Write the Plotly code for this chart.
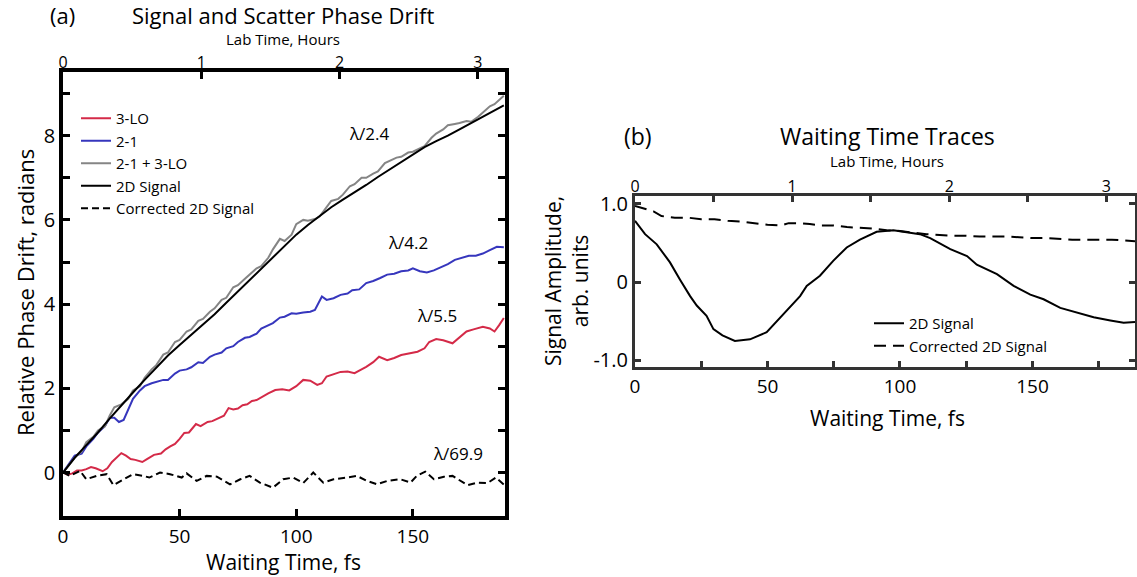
import plotly.graph_objects as go

W, H = 1137, 577
FONT = "Open Sans"
FS_PER_HOUR = 59.3

# ---------------- Panel (a): phase drift (radians) vs waiting time (fs) ----------------
t_red = [0, 2, 4, 6, 8, 10, 12, 14, 17, 19, 21, 23, 25, 27, 29, 31, 34, 36, 39, 42, 44, 46, 48, 50,
         52, 54, 57, 59, 62, 64, 67, 69, 71, 73, 75, 77, 79, 81, 83, 86, 88, 91, 94, 97, 100, 103,
         106, 109, 111, 113, 116, 119, 122, 125, 128, 130, 133, 135.5, 139, 142, 145, 148, 152,
         155, 157, 160, 163, 167, 170, 173, 176, 180, 183, 185, 187, 189]
red_3lo = [0.0, -0.05, -0.02, 0.05, 0.05, 0.08, 0.13, 0.10, 0.03, 0.10, 0.25, 0.35, 0.46, 0.40, 0.32,
           0.30, 0.25, 0.32, 0.42, 0.45, 0.55, 0.62, 0.68, 0.80, 0.94, 0.95, 1.15, 1.10, 1.20, 1.22,
           1.30, 1.35, 1.53, 1.50, 1.52, 1.60, 1.62, 1.70, 1.72, 1.82, 1.88, 1.96, 1.98, 1.95, 2.05,
           2.20, 2.18, 2.08, 2.12, 2.28, 2.33, 2.39, 2.40, 2.36, 2.45, 2.51, 2.62, 2.75, 2.67, 2.72,
           2.79, 2.82, 2.87, 2.95, 3.10, 3.17, 3.14, 3.07, 3.20, 3.35, 3.40, 3.46, 3.42, 3.35, 3.50, 3.67]

t_blue = [0, 3, 5, 8, 10, 13, 15, 18, 20, 22, 24, 26, 28, 30, 33, 35, 38, 40, 43, 45, 48, 50, 53, 55,
          58, 60, 63, 65, 68, 70, 73, 75, 78, 80, 83, 85, 88, 90, 93, 95, 98, 100, 103, 106, 108, 110,
          111, 113, 116, 119, 122, 124, 127, 130, 133, 136, 139, 142, 145, 148, 150, 153, 156, 159,
          162, 165, 168, 171, 174, 177, 180, 183, 186, 189]
blue_21 = [0.0, 0.25, 0.40, 0.45, 0.62, 0.80, 0.95, 1.10, 1.30, 1.30, 1.20, 1.25, 1.50, 1.75, 1.95,
           2.05, 2.12, 2.15, 2.20, 2.20, 2.35, 2.42, 2.45, 2.50, 2.62, 2.60, 2.75, 2.80, 2.85, 2.95,
           3.00, 3.10, 3.20, 3.22, 3.30, 3.42, 3.50, 3.55, 3.68, 3.70, 3.78, 3.77, 3.80, 3.82, 3.86,
           4.10, 4.18, 4.10, 4.14, 4.22, 4.25, 4.33, 4.35, 4.50, 4.55, 4.62, 4.70, 4.72, 4.78, 4.80,
           4.85, 4.78, 4.75, 4.80, 4.88, 4.95, 5.05, 5.10, 5.15, 5.15, 5.20, 5.28, 5.36, 5.35]

t_gray = [0, 3, 5, 8, 10, 13, 15, 18, 20, 22, 25, 28, 30, 33, 35, 38, 40, 43, 45, 48, 50, 53, 55, 58,
          60, 63, 65, 68, 70, 73, 75, 78, 80, 83, 85, 88, 90, 93, 95, 98, 100, 103, 105, 108, 110, 113,
          115, 118, 120, 123, 125, 128, 130, 133, 135, 138, 140, 143, 145, 148, 150, 153, 155, 158,
          160, 163, 165, 168, 170, 173, 175, 178, 180, 183, 185, 187, 189]
gray_sum = [0.0, 0.20, 0.35, 0.50, 0.72, 0.85, 1.00, 1.10, 1.35, 1.55, 1.62, 1.75, 1.95, 2.05, 2.25,
            2.45, 2.55, 2.80, 2.85, 3.10, 3.15, 3.35, 3.40, 3.60, 3.65, 3.82, 3.90, 4.10, 4.15, 4.40,
            4.45, 4.60, 4.70, 4.85, 4.90, 5.10, 5.30, 5.55, 5.50, 5.65, 5.90, 6.00, 5.98, 6.02, 6.08,
            6.30, 6.45, 6.50, 6.60, 6.80, 6.85, 7.00, 7.00, 7.10, 7.15, 7.35, 7.40, 7.48, 7.50, 7.60,
            7.62, 7.70, 7.75, 7.95, 8.05, 8.15, 8.25, 8.28, 8.30, 8.35, 8.33, 8.45, 8.55, 8.70, 8.75,
            8.85, 8.95]

t_black = [0, 5, 10, 15, 20, 25, 30, 35, 40, 45, 50, 55, 60, 65, 70, 75, 80, 85, 90, 95, 100, 105,
           110, 115, 120, 125, 130, 135, 140, 145, 150, 155, 160, 165, 170, 175, 180, 185, 189]
black_2d = [0.0, 0.35, 0.65, 0.95, 1.28, 1.60, 1.90, 2.20, 2.50, 2.78, 3.03, 3.27, 3.50, 3.76, 4.03,
            4.30, 4.57, 4.85, 5.10, 5.38, 5.65, 5.88, 6.10, 6.30, 6.48, 6.65, 6.83, 7.02, 7.20, 7.38,
            7.57, 7.73, 7.87, 8.00, 8.15, 8.30, 8.45, 8.60, 8.72]

t_corr = [0, 3, 7.3, 10, 14.4, 18.7, 21.6, 25.9, 30, 34.4, 37, 41.6, 45.9, 50.9, 53, 57.3, 61.6, 66,
          71.6, 76, 80, 84.4, 90, 94.4, 98.7, 103, 107.3, 111.6, 116, 121.6, 126, 130.3, 134.6, 139,
          144.6, 149, 151.7, 155.3, 159, 163.3, 167, 173.4, 177.7, 182, 185.6, 189.3]
corr_2d = [0.0, -0.08, 0.04, -0.16, -0.08, -0.04, -0.30, -0.16, -0.04, -0.08, -0.12, 0.0, -0.04,
           -0.12, -0.02, -0.20, -0.08, -0.10, -0.28, -0.16, -0.08, -0.24, -0.36, -0.16, -0.12, -0.25,
           0.0, -0.24, -0.16, -0.12, -0.08, -0.20, -0.28, -0.20, -0.16, -0.24, -0.08, 0.02, -0.16,
           -0.10, -0.08, -0.30, -0.24, -0.25, -0.12, -0.30]

a_labels = ["\u03bb/2.4", "\u03bb/4.2", "\u03bb/5.5", "\u03bb/69.9"]
a_label_x = [131.6, 147.9, 160.3, 169.3]
a_label_y = [8.06, 5.47, 3.74, 0.46]

# ---------------- Panel (b): signal amplitude vs waiting time ----------------
t_sig = [0, 3.8, 8.2, 13.2, 17, 20.8, 23.3, 27, 29.6, 33, 37.7, 43.4, 49.7, 53.5, 58.5, 62.3, 64.8,
         69.8, 74.8, 79.9, 84.9, 91.2, 97.5, 102, 107.5, 111.4, 119, 125.3, 129, 136.6, 142.9, 149.2,
         154.2, 160.5, 166.8, 173.1, 179.4, 184.4, 188.7]
sig_2d = [0.78, 0.61, 0.48, 0.25, 0.03, -0.18, -0.30, -0.43, -0.60, -0.68, -0.75, -0.73, -0.64,
          -0.50, -0.31, -0.18, -0.05, 0.08, 0.27, 0.44, 0.54, 0.64, 0.66, 0.64, 0.61, 0.56, 0.42,
          0.33, 0.22, 0.10, -0.05, -0.16, -0.22, -0.33, -0.39, -0.45, -0.49, -0.52, -0.51]

t_sigc = [0, 4, 7, 10, 15, 20, 25, 30, 35, 40, 45, 50, 55, 58, 62, 66, 70, 75, 80, 85, 90, 95, 100,
          105, 110, 115, 120, 125, 130, 135, 140, 145, 150, 155, 160, 165, 170, 175, 180, 185, 188.7]
sig_corr = [0.97, 0.93, 0.90, 0.84, 0.82, 0.82, 0.80, 0.80, 0.78, 0.77, 0.75, 0.73, 0.72, 0.75, 0.75,
            0.74, 0.72, 0.72, 0.70, 0.69, 0.68, 0.66, 0.65, 0.63, 0.61, 0.60, 0.59, 0.59, 0.58, 0.58,
            0.58, 0.57, 0.56, 0.56, 0.55, 0.54, 0.54, 0.54, 0.54, 0.53, 0.52]

a_yticks = [0, 1, 2, 3, 4, 5, 6, 7, 8, 9]
a_yticktext = ["0", "", "2", "", "4", "", "6", "", "8", ""]
a_xticks = [0, 50, 100, 150]
a_hour_ticks = [0, 1, 2, 3]
b_xticks = [0, 25, 50, 75, 100, 125, 150, 175]
b_xticktext = ["0", "", "50", "", "100", "", "150", ""]
b_yticks = [-1, 0, 1]
b_yticktext = ["-1.0", "0", "1.0"]
b_hour_ticks = [0, 0.5, 1, 1.5, 2, 2.5, 3]
b_hour_text = ["0", "", "1", "", "2", "", "3"]

RED = "#d42a48"
BLUE = "#3636bd"
GRAY = "#858585"

A_XR = [0, 189.5]
A_YR = [-1.033, 9.513]
B_XR = [0, 188.7]
B_YR = [-1.083, 1.096]

fig = go.Figure()
common = dict(mode="lines", xaxis="x", yaxis="y", legend="legend")
fig.add_trace(go.Scatter(x=t_red, y=red_3lo, name="3-LO", line=dict(color=RED, width=2), **common))
fig.add_trace(go.Scatter(x=t_blue, y=blue_21, name="2-1", line=dict(color=BLUE, width=2), **common))
fig.add_trace(go.Scatter(x=t_gray, y=gray_sum, name="2-1 + 3-LO", line=dict(color=GRAY, width=2), **common))
fig.add_trace(go.Scatter(x=t_black, y=black_2d, name="2D Signal", line=dict(color="black", width=2), **common))
fig.add_trace(go.Scatter(x=t_corr, y=corr_2d, name="Corrected 2D Signal",
                         line=dict(color="black", width=2, dash="7px,4px"), **common))

commonb = dict(mode="lines", xaxis="x2", yaxis="y2", legend="legend2")
fig.add_trace(go.Scatter(x=t_sig, y=sig_2d, name="2D Signal", line=dict(color="black", width=2), **commonb))
fig.add_trace(go.Scatter(x=t_sigc, y=sig_corr, name="Corrected 2D Signal",
                         line=dict(color="black", width=2, dash="12px,7px"), **commonb))

# empty carriers so the top "Lab Time, Hours" axes get drawn (no visible marks)
fig.add_trace(go.Scatter(x=a_hour_ticks, y=[None] * len(a_hour_ticks), xaxis="x3", yaxis="y",
                         mode="lines", showlegend=False, hoverinfo="skip"))
fig.add_trace(go.Scatter(x=b_hour_ticks, y=[None] * len(b_hour_ticks), xaxis="x4", yaxis="y2",
                         mode="lines", showlegend=False, hoverinfo="skip"))

tickfont = dict(family=FONT, size=20, color="black")
xtickfont = dict(family=FONT, size=19, color="black")
topfont = dict(family=FONT, size=16, color="black")


def px_x(p):
    return p / W


def px_y(p):
    return 1 - p / H


base = dict(showgrid=False, zeroline=False, automargin=False, ticks="inside", tickwidth=3)

fig.update_layout(
    width=W, height=H, margin=dict(l=0, r=0, t=0, b=0, autoexpand=False),
    paper_bgcolor="white", plot_bgcolor="white",
    font=dict(family=FONT, color="black"),
    xaxis=dict(domain=[px_x(63), px_x(505)], anchor="y", range=A_XR, tickvals=a_xticks,
               ticklen=7, tickcolor="black", showline=True, linewidth=3.5, linecolor="black",
               mirror=True, tickfont=xtickfont, ticklabelstandoff=0, **base),
    yaxis=dict(domain=[px_y(516), px_y(72)], anchor="x", range=A_YR, tickvals=a_yticks,
               ticktext=a_yticktext, ticklen=7, tickcolor="black", showline=True, linewidth=3.5,
               linecolor="black", mirror="ticks", tickfont=tickfont, **base),
    xaxis3=dict(overlaying="x", side="top", anchor="y",
                range=[A_XR[0] / FS_PER_HOUR, A_XR[1] / FS_PER_HOUR], tickvals=a_hour_ticks,
                ticklen=7, tickcolor="black", showline=False, tickfont=topfont, **base),
    xaxis2=dict(domain=[px_x(635), px_x(1135)], anchor="y2", range=B_XR, tickvals=b_xticks,
                ticktext=b_xticktext, ticklen=6, tickcolor="#333", showline=True, linewidth=3,
                linecolor="#333", mirror=True, tickfont=xtickfont, ticklabelstandoff=0, **base),
    yaxis2=dict(domain=[px_y(367), px_y(196)], anchor="x2", range=B_YR, tickvals=b_yticks,
                ticktext=b_yticktext, ticklen=6, tickcolor="#333", showline=True, linewidth=3,
                linecolor="#333", mirror="ticks", tickfont=tickfont, **base),
    xaxis4=dict(overlaying="x2", side="top", anchor="y2",
                range=[B_XR[0] / FS_PER_HOUR, B_XR[1] / FS_PER_HOUR], tickvals=b_hour_ticks,
                ticktext=b_hour_text, ticklen=6, tickcolor="#333", showline=False,
                tickfont=topfont, **base),
    legend=dict(x=px_x(76), y=px_y(102), xanchor="left", yanchor="top", bgcolor="rgba(0,0,0,0)",
                font=dict(family=FONT, size=15, color="black"), itemwidth=30, tracegroupgap=0),
    legend2=dict(x=px_x(869), y=px_y(307), xanchor="left", yanchor="top", bgcolor="rgba(0,0,0,0)",
                 font=dict(family=FONT, size=15, color="black"), itemwidth=30, tracegroupgap=0),
)

ann = []


def text(xp, yp, s, size, angle=0):
    ann.append(dict(x=px_x(xp), y=px_y(yp), xref="paper", yref="paper", text=s, showarrow=False,
                    xanchor="center", yanchor="middle", textangle=angle,
                    font=dict(family=FONT, size=size, color="black")))


text(62, 15, "(a)", 22)
text(283, 15, "Signal and Scatter Phase Drift", 22)
text(283, 39, "Lab Time, Hours", 15)
text(283, 562, "Waiting Time, fs", 21)
text(25, 293, "Relative Phase Drift, radians", 22, -90)
text(638, 136, "(b)", 23)
text(887, 136, "Waiting Time Traces", 23)
text(887, 161, "Lab Time, Hours", 15)
text(887, 418, "Waiting Time, fs", 21)
text(566, 281, "Signal Amplitude,<br>arb. units", 21, -90)

for s, xv, yv in zip(a_labels, a_label_x, a_label_y):
    ann.append(dict(x=xv, y=yv, xref="x", yref="y", text=s, showarrow=False, xanchor="center",
                    yanchor="middle", font=dict(family=FONT, size=17, color="black")))

fig.update_layout(annotations=ann)
fig.write_html("out.html")
